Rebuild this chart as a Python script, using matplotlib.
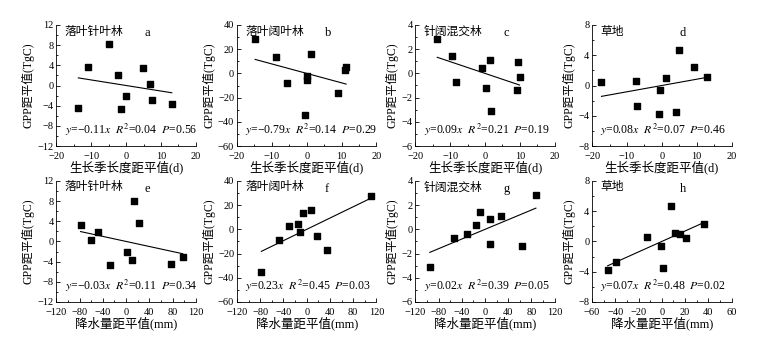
import numpy as np
import matplotlib
matplotlib.use("Agg")
import matplotlib.pyplot as plt
from matplotlib.ticker import AutoMinorLocator

plt.rcParams['font.family'] = ['Liberation Serif', 'Noto Sans CJK SC']
plt.rcParams['mathtext.fontset'] = 'stix'

# growing season length anomaly (d) vs GPP anomaly (TgC)
x_a = [-13.7, -10.8, -4.9, -2.3, -1.5, 0.0, 4.9, 6.8, 7.3, 13.1]
y_a = [-4.4, 3.7, 8.2, 2.0, -4.6, -2.0, 3.4, 0.3, -2.9, -3.6]
x_b = [-14.8, -8.7, -5.6, -0.6, 0.2, 0.0, 1.3, 9.1, 10.9, 11.3]
y_b = [28.4, 13.5, -8.3, -34.3, -2.3, -5.6, 16.2, -16.6, 2.7, 4.9]
x_c = [-13.7, -9.5, -8.4, -1.0, 0.3, 1.4, 1.7, 9.3, 9.6, 9.9]
y_c = [2.87, 1.43, -0.7, 0.41, -1.22, 1.13, -3.07, -1.37, 0.93, -0.31]
x_d = [-17.3, -7.4, -7.1, -0.7, -0.5, 1.2, 4.2, 5.0, 9.3, 12.9]
y_d = [0.5, 0.57, -2.7, -3.77, -0.54, 1.0, -3.5, 4.64, 2.42, 1.14]
# precipitation anomaly (mm) vs GPP anomaly (TgC)
x_e = [-78.4, -59.8, -48.3, -28.0, 0.9, 10.7, 13.0, 22.3, 76.6, 97.5]
y_e = [3.3, 0.2, 1.9, -4.6, -2.0, -3.7, 8.1, 3.6, -4.4, -3.0]
x_f = [-78.0, -48.2, -29.9, -15.5, -11.5, -6.3, 8.0, 17.8, 34.4, 111.3]
y_f = [-35.0, -8.8, 2.5, 4.7, -2.1, 13.3, 15.8, -5.7, -16.7, 27.9]
x_g = [-95.1, -54.0, -31.5, -14.7, -9.0, 7.8, 9.0, 27.5, 62.8, 87.6]
y_g = [-3.1, -0.74, -0.35, 0.39, 1.41, -1.23, 0.89, 1.11, -1.4, 2.82]
x_h = [-46.6, -39.7, -12.6, -0.9, 1.1, 8.0, 11.1, 15.7, 20.9, 36.0]
y_h = [-3.8, -2.7, 0.56, -0.54, -3.54, 4.65, 1.14, 1.0, 0.48, 2.36]

xs = [x_a, x_b, x_c, x_d, x_e, x_f, x_g, x_h]
ys = [y_a, y_b, y_c, y_d, y_e, y_f, y_g, y_h]
slopes = [-0.11, -0.78, -0.097, 0.083, -0.025, 0.233, 0.02, 0.069]
veg = ['落叶针叶林', '落叶阔叶林', '针阔混交林', '草地'] * 2
letters = ['a', 'b', 'c', 'd', 'e', 'f', 'g', 'h']
stats = [('-0.11', '0.04', '0.56'), ('-0.79', '0.14', '0.29'),
         ('0.09', '0.21', '0.19'), ('0.08', '0.07', '0.46'),
         ('-0.03', '0.11', '0.34'), ('0.23', '0.45', '0.03'),
         ('0.02', '0.39', '0.05'), ('0.07', '0.48', '0.02')]
ylims = [(-12, 12), (-60, 40), (-6, 4), (-8, 8),
         (-12, 12), (-60, 40), (-6, 4), (-8, 8)]
ysteps = [4, 20, 2, 4, 4, 20, 2, 4]
xlims = [(-20, 20)] * 4 + [(-120, 120)] * 3 + [(-60, 60)]
xsteps = [10] * 4 + [40] * 3 + [20]
xlabels = ['生长季长度距平值(d)'] * 4 + ['降水量距平值(mm)'] * 4

fig = plt.figure(figsize=(7.62, 3.42), dpi=100)
lefts = [0.074, 0.311, 0.545, 0.777]
bottoms = [0.573, 0.117]
w, h = 0.183, 0.354


def fmt(v, p):
    return f'{v:g}'.replace('-', '\u2212')


for i in range(8):
    ax = fig.add_axes([lefts[i % 4], bottoms[i // 4], w, h])
    x = np.array(xs[i])
    y = np.array(ys[i])
    ax.scatter(x, y, marker='s', s=16, color='black', zorder=3)
    lx = np.array([x.min(), x.max()])
    ax.plot(lx, slopes[i] * lx, color='black', lw=0.8)

    ax.set_xlim(*xlims[i])
    ax.set_ylim(*ylims[i])
    ax.set_xticks(np.arange(xlims[i][0], xlims[i][1] + 1, xsteps[i]))
    ax.set_yticks(np.arange(ylims[i][0], ylims[i][1] + 0.1, ysteps[i]))
    ax.xaxis.set_minor_locator(AutoMinorLocator(2))
    ax.yaxis.set_minor_locator(AutoMinorLocator(2))
    ax.tick_params(which='both', direction='in', labelsize=7.5)
    ax.tick_params(axis='x', pad=4)
    ax.tick_params(axis='y', pad=2)
    ax.tick_params(which='major', length=3, width=0.6)
    ax.tick_params(which='minor', length=1.5, width=0.6)
    ax.xaxis.set_major_formatter(plt.FuncFormatter(fmt))
    ax.yaxis.set_major_formatter(plt.FuncFormatter(fmt))
    for s in ['top', 'right']:
        ax.spines[s].set_visible(False)
    for s in ['left', 'bottom']:
        ax.spines[s].set_linewidth(0.6)

    ax.set_ylabel('GPP距平值(TgC)', fontsize=8.5, labelpad=2)
    ax.set_xlabel(xlabels[i], fontsize=9, labelpad=0)

    ax.text(0.06, 0.95, veg[i], transform=ax.transAxes, fontsize=8.5,
            family='Noto Sans CJK SC', va='center', ha='left')
    ax.text(0.63, 0.93, letters[i], transform=ax.transAxes, fontsize=9,
            va='center', ha='left')
    k, r2, p = stats[i]
    k = k.replace('-', '\u2212')
    ax.text(0.06, 0.13,
            f'$y$={k}$x$  $R^2$={r2}  $P$={p}',
            transform=ax.transAxes, fontsize=8.5, va='center', ha='left')

fig.savefig('out.png', dpi=100)
